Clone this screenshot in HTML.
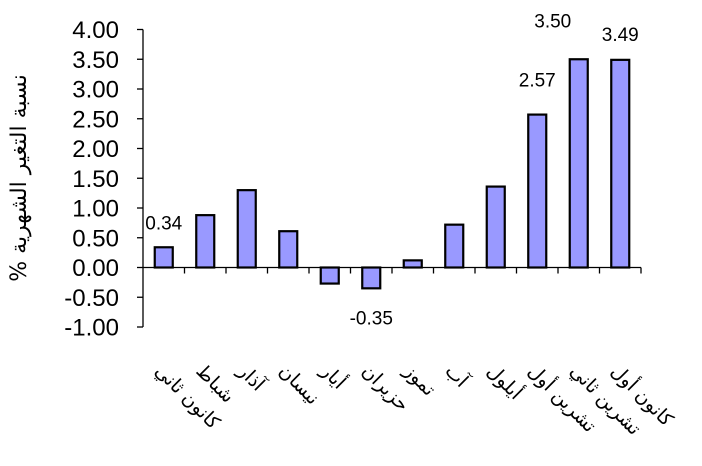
<!DOCTYPE html>
<html><head><meta charset="utf-8"><style>
body{margin:0;background:#fff;}
#wrap{position:relative;width:702px;height:466px;overflow:hidden;font-family:"Liberation Sans","DejaVu Sans",sans-serif;}
.xl{position:absolute;white-space:nowrap;font-size:19px;transform-origin:0 0;transform:rotate(45deg);direction:rtl;font-family:"DejaVu Sans","Noto Sans CJK SC",sans-serif;}
</style></head><body>
<div id="wrap">
<svg id="svg" width="702" height="466" style="position:absolute;left:0;top:0">
<text transform="translate(26,178) rotate(-90)" text-anchor="middle" font-size="22" font-family="DejaVu Sans, sans-serif" direction="rtl">نسبة التغير الشهرية %</text>
</svg>
</div>
<script>
const categories=["كانون ثاني","شباط","آذار","نيسان","أيار","حزيران","تموز","آب","أيلول","تشرين أول","تشرين ثاني","كانون أول"];
const values=[0.34,0.88,1.30,0.61,-0.27,-0.35,0.12,0.72,1.36,2.57,3.50,3.49];
const labeled=[0.34,null,null,null,null,-0.35,null,null,null,2.57,3.50,3.49];
const yTicks=[4,3.5,3,2.5,2,1.5,1,0.5,0,-0.5,-1];
const labelDy=[-18,0,0,0,0,36,0,0,0,-28,-32,-19];
const labelDx=[0,0,0,0,0,0,0,0,0,0,-26,0];
const NS="http://www.w3.org/2000/svg";
const svg=document.getElementById('svg'),wrap=document.getElementById('wrap');
const x0=143,cw=41.5,yTop=29.5,yBot=327,vMax=4,vMin=-1;
const y=v=>yTop+(vMax-v)*(yBot-yTop)/(vMax-vMin);
const xc=i=>x0+cw*(i+0.5);
function mk(t,a){const e=document.createElementNS(NS,t);for(const k in a)e.setAttribute(k,a[k]);svg.appendChild(e);return e;}
let ax=mk('line',{x1:x0,x2:x0,y1:yTop,y2:yBot,stroke:'#000','stroke-width':1.3});


yTicks.forEach(t=>{
 let l=mk('line',{x1:x0-6,x2:x0,y1:y(t),y2:y(t),stroke:'#000','stroke-width':1.3});
 
 
 let tx=mk('text',{x:x0-24,y:y(t)+8.5,'text-anchor':'end','font-size':24});
 tx.textContent=t.toFixed(2);
 
 
});
values.forEach((v,i)=>{
 let top=Math.min(y(v),y(0)),h=Math.abs(y(v)-y(0));
 let r=mk('rect',{x:xc(i)-9,y:top,width:18,height:h,fill:'#9999FF',stroke:'#000','stroke-width':2.2});
 
 
});
let zx=mk('line',{x1:x0,x2:x0+cw*categories.length,y1:y(0),y2:y(0),stroke:'#000','stroke-width':1.3});


for(let i=1;i<=categories.length;i++){
 let l=mk('line',{x1:x0+cw*i,x2:x0+cw*i,y1:y(0),y2:y(0)+6,stroke:'#000','stroke-width':1.3});
 
 
}
labeled.forEach((v,i)=>{
 if(v===null)return;
 let ty=y(values[i])+labelDy[i];
 let tx=mk('text',{x:xc(i)+labelDx[i],y:ty,'text-anchor':'middle','font-size':19});
 tx.textContent=v.toFixed(2);
 
 
});
categories.forEach((c,i)=>{
 const d=document.createElement('div');
 d.className='xl';
 d.textContent=c;
 d.style.left=(xc(i)+2)+'px';
 d.style.top='360px';
 
 
 wrap.appendChild(d);
});
</script>
</body></html>
